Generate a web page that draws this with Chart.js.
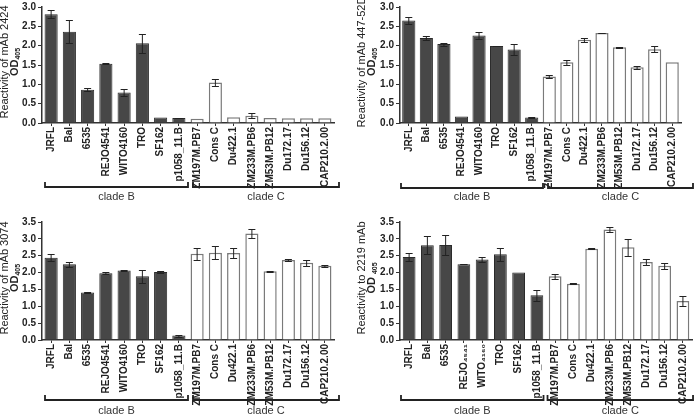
<!DOCTYPE html>
<html>
<head>
<meta charset="utf-8">
<script src="https://cdn.jsdelivr.net/npm/chart.js@4.4.1/dist/chart.umd.min.js"></script>
<style>
  body { margin: 0; background: #fff; width: 696px; height: 417px; position: relative; overflow: hidden; }
  .panel { position: absolute; }
</style>
</head>
<body>
<div class="panel" style="left:0;top:0"><canvas id="c2424" width="348" height="207"></canvas></div>
<div class="panel" style="left:348px;top:0"><canvas id="c447" width="348" height="207"></canvas></div>
<div class="panel" style="left:0;top:207px"><canvas id="c3074" width="348" height="210"></canvas></div>
<div class="panel" style="left:348px;top:207px"><canvas id="c2219" width="348" height="210"></canvas></div>
<script>
// virus names (clade B first, then clade C)
const virus = ['JRFL', 'Bal', '6535', 'REJO4541', 'WITO4160', 'TRO', 'SF162', 'p1058_11.B',
  'ZM197M.PB7', 'Cons C', 'Du422.1', 'ZM233M.PB6', 'ZM53M.PB12', 'Du172.17', 'Du156.12', 'CAP210.2.00'];
const virus2219 = ['JRFL', 'Bal', '6535', 'REJO₄₅₄₁', 'WITO₄₁₆₀', 'TRO', 'SF162', 'p1058_11.B',
  'ZM197M.PB7', 'Cons C', 'Du422.1', 'ZM233M.PB6', 'ZM53M.PB12', 'Du172.17', 'Du156.12', 'CAP210.2.00'];
const cladeNames = ['clade B', 'clade C'];
const cladeSizes = [8, 8];

// OD405 valores y errores
const mab2424 = [2.81, 2.36, 0.86, 1.53, 0.79, 2.06, 0.14, 0.13, 0.11, 1.05, 0.15, 0.19, 0.13, 0.12, 0.12, 0.12];
const mab2424Err = [0.1, 0.3, 0.04, 0.01, 0.1, 0.25, 0, 0.01, 0, 0.1, 0, 0.07, 0, 0, 0, 0];
const mab447 = [2.65, 2.2, 2.04, 0.17, 2.26, 1.99, 1.9, 0.14, 1.2, 1.57, 2.15, 2.33, 1.96, 1.44, 1.91, 1.57];
const mab447Err = [0.1, 0.05, 0.04, 0, 0.1, 0.01, 0.15, 0.01, 0.04, 0.07, 0.06, 0.01, 0.01, 0.04, 0.08, 0];
const mab3074 = [2.44, 2.25, 1.41, 1.98, 2.06, 1.89, 2.02, 0.13, 2.56, 2.59, 2.58, 3.16, 2.04, 2.37, 2.29, 2.2];
const mab3074Err = [0.1, 0.07, 0.02, 0.03, 0.02, 0.19, 0.03, 0.03, 0.18, 0.19, 0.14, 0.12, 0.01, 0.02, 0.09, 0.02];
const mab2219 = [2.46, 2.81, 2.82, 2.25, 2.39, 2.54, 2.0, 1.33, 1.89, 1.67, 2.71, 3.28, 2.75, 2.31, 2.2, 1.16];
const mab2219Err = [0.11, 0.27, 0.3, 0.01, 0.07, 0.2, 0, 0.16, 0.08, 0.01, 0.01, 0.07, 0.25, 0.08, 0.08, 0.14];

const FONT = "'Liberation Sans', Arial, sans-serif";

// barras de error
const errorBars = {
  id: 'errorBars',
  afterDatasetsDraw(chart, args, opts) {
    const { ctx } = chart;
    const y = chart.scales.y;
    const vals = chart.data.datasets[0].data;
    const meta = chart.getDatasetMeta(0);
    ctx.save();
    ctx.strokeStyle = '#222';
    ctx.lineWidth = 1;
    meta.data.forEach((bar, i) => {
      const e = opts.errors[i];
      if (!e) return;
      const yTop = Math.round(y.getPixelForValue(vals[i] + e)) + 0.5;
      const yBot = Math.round(y.getPixelForValue(vals[i] - e)) + 0.5;
      ctx.beginPath();
      ctx.moveTo(bar.x, yTop); ctx.lineTo(bar.x, yBot);
      ctx.moveTo(bar.x - 3.5, yTop); ctx.lineTo(bar.x + 3.5, yTop);
      ctx.moveTo(bar.x - 3.5, yBot); ctx.lineTo(bar.x + 3.5, yBot);
      ctx.stroke();
    });
    ctx.restore();
  }
};

// corchetes de clado y titulo del eje y
const extras = {
  id: 'extras',
  afterDraw(chart, args, opts) {
    const { ctx, chartArea } = chart;
    const x = chart.scales.x;
    ctx.save();
    // corchetes
    let start = 0;
    cladeSizes.forEach((n, g) => {
      const end = start + n - 1;
      const x1 = x.getPixelForValue(start - 0.5) + opts.bracketAdj[g * 2];
      const x2 = x.getPixelForValue(end + 0.5) + opts.bracketAdj[g * 2 + 1];
      const by = opts.bracketY;
      ctx.strokeStyle = '#222';
      ctx.lineWidth = 1.8;
      ctx.beginPath();
      ctx.moveTo(x1, by - 5); ctx.lineTo(x1, by); ctx.lineTo(x2, by); ctx.lineTo(x2, by - 5);
      ctx.stroke();
      ctx.fillStyle = '#333';
      ctx.font = '11px ' + FONT;
      ctx.textAlign = 'center';
      ctx.textBaseline = 'middle';
      ctx.fillText(cladeNames[g], (x1 + x2) / 2, opts.cladeY);
      start += n;
    });
    // titulo eje y
    const cy = (chartArea.top + chartArea.bottom) / 2 - 3;
    ctx.fillStyle = '#222';
    ctx.translate(opts.titleX, cy);
    ctx.rotate(-Math.PI / 2);
    ctx.textBaseline = 'middle';
    ctx.textAlign = 'center';
    ctx.font = '11px ' + FONT;
    ctx.fillText(opts.title1, 0, 0);
    ctx.font = 'bold 11px ' + FONT;
    const w1 = ctx.measureText(opts.title2).width;
    ctx.font = 'bold 7px ' + FONT;
    const w2 = ctx.measureText('405').width;
    const sx = -(w1 + w2) / 2;
    ctx.textAlign = 'left';
    ctx.font = 'bold 11px ' + FONT;
    ctx.fillText(opts.title2, sx, 10);
    ctx.font = 'bold 7px ' + FONT;
    ctx.fillText('405', sx + w1, 13);
    ctx.restore();
  }
};

function panel(id, labels, values, errors, p) {
  const dark = labels.map((l, i) => i < cladeSizes[0] ? '#474747' : '#ffffff');
  const edge = labels.map((l, i) => i < cladeSizes[0] ? '#2b2b2b' : '#7a7a7a');
  const canvas = document.getElementById(id);
  new Chart(canvas, {
    type: 'bar',
    data: {
      labels: labels,
      datasets: [{
        data: values,
        backgroundColor: dark,
        borderColor: edge,
        borderWidth: labels.map((l, i) => i < cladeSizes[0] ? 1 : 1.5),
        barPercentage: p.barPct,
        categoryPercentage: 1
      }]
    },
    options: {
      responsive: false,
      animation: false,
      events: [],
      layout: { padding: { left: 0, right: canvas.width - p.right, top: p.top, bottom: 0 } },
      plugins: {
        legend: { display: false },
        tooltip: { enabled: false },
        errorBars: { errors: errors },
        extras: p
      },
      scales: {
        x: {
          afterFit: s => { s.height = canvas.height - p.bottom; },
          grid: { offset: false, drawOnChartArea: false, tickLength: 3, color: '#333', lineWidth: 1 },
          border: { color: '#333', width: 1.5 },
          ticks: {
            autoSkip: false, minRotation: 90, maxRotation: 90, padding: 1,
            color: '#222', font: { family: FONT, size: 10, weight: 'bold' }
          }
        },
        y: {
          min: 0, max: p.yMax,
          afterFit: s => { s.width = p.left; },
          grid: { drawOnChartArea: false, tickLength: 4, color: '#333', lineWidth: 1 },
          border: { color: '#333', width: 1.5 },
          ticks: {
            stepSize: 0.5, padding: 2, color: '#222',
            font: { family: FONT, size: 10, weight: 'bold', lineHeight: 1 },
            callback: v => v.toFixed(1)
          }
        }
      }
    },
    plugins: [errorBars, extras]
  });
}

panel('c2424', virus, mab2424, mab2424Err, {
  left: 42, right: 334, top: 5, bottom: 123, yMax: 3.0, barPct: 0.72,
  title1: 'Reactivity of mAb 2424', title2: 'OD', titleX: 5,
  bracketY: 187, cladeY: 197, bracketAdj: [3, 0, 5, 5]
});
panel('c447', virus, mab447, mab447Err, {
  left: 52, right: 333, top: 5, bottom: 123, yMax: 3.0, barPct: 0.75,
  title1: 'Reactivity of mAb 447-52D', title2: 'OD', titleX: 14,
  bracketY: 188, cladeY: 197, bracketAdj: [1, 2.5, 7.5, 12]
});
panel('c3074', virus, mab3074, mab3074Err, {
  left: 42, right: 334, top: 15, bottom: 133, yMax: 3.5, barPct: 0.72,
  title1: 'Reactivity of mAb 3074', title2: 'OD', titleX: 5,
  bracketY: 193, cladeY: 204, bracketAdj: [3, 0, 5, 5]
});
panel('c2219', virus2219, mab2219, mab2219Err, {
  left: 52, right: 345, top: 15, bottom: 133, yMax: 3.5, barPct: 0.7,
  title1: 'Reactivity to 2219 mAb', title2: 'OD ', titleX: 14,
  bracketY: 193, cladeY: 204, bracketAdj: [1, -2.5, 1.5, 1]
});
</script>
</body>
</html>
